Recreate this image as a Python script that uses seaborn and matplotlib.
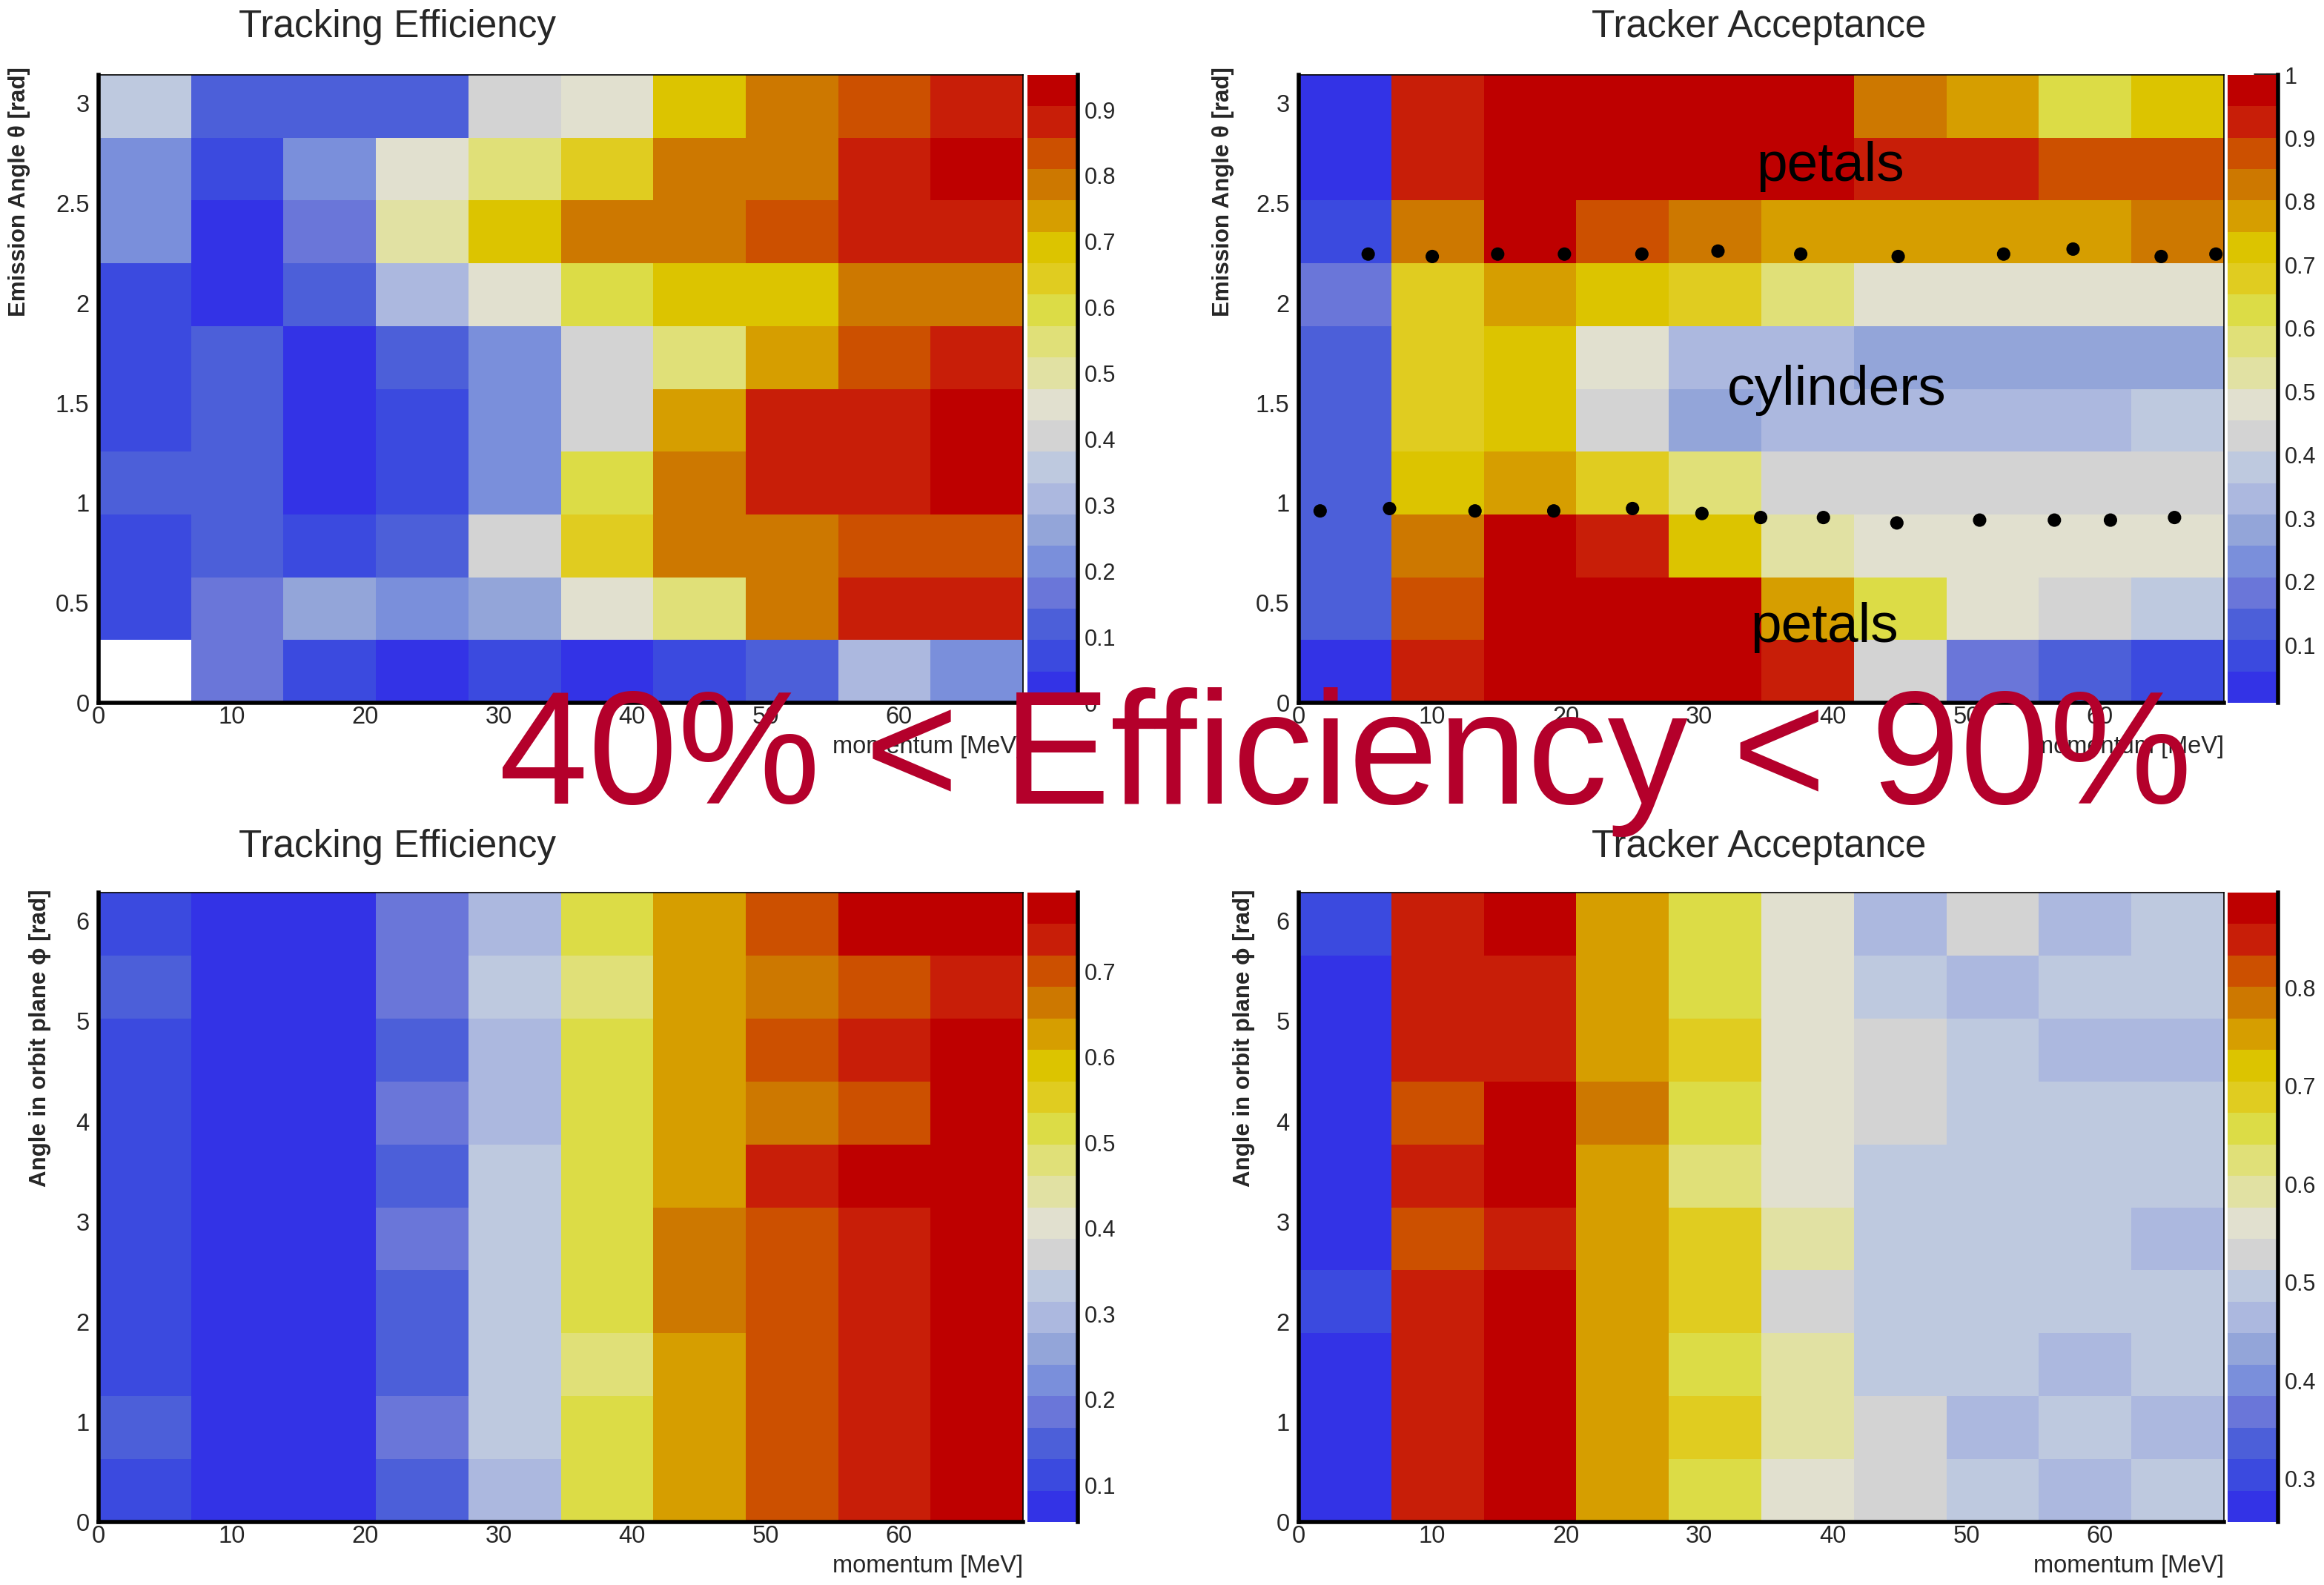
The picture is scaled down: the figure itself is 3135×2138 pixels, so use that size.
import numpy as np
import pandas as pd
import matplotlib
matplotlib.use("Agg")
import matplotlib.pyplot as plt
import seaborn as sns
from matplotlib.colors import ListedColormap
from matplotlib.ticker import MultipleLocator, FuncFormatter

sns.set_style("white")
plt.rcParams["font.family"] = ["Liberation Sans", "DejaVu Sans"]

# ------------------------------------------------------------------ data
momentum_max = 69.3            # MeV, upper edge of the momentum axis
theta_max = np.pi              # rad
phi_max = 2 * np.pi            # rad

# 20-step ROOT-like palette (blue -> grey -> yellow -> red)
palette = ["#3333E6", "#3B4ADF", "#4C5FD9", "#6A76D9", "#7A8FDB",
           "#93A5D9", "#ACB8DF", "#BEC9DF", "#D3D3D3", "#E1E0CF",
           "#E1E1A3", "#E0E078", "#DCDC46", "#E0CC20", "#DCC400",
           "#D69E00", "#CD7800", "#CC5000", "#C81E08", "#BE0000"]

# rows listed from the top of the plot (largest angle) to the bottom
eff_theta = [
    [0.36, 0.12, 0.12, 0.12, 0.40, 0.45, 0.69, 0.79, 0.83, 0.88],
    [0.21, 0.07, 0.21, 0.45, 0.55, 0.64, 0.79, 0.79, 0.88, 0.93],
    [0.21, 0.02, 0.17, 0.50, 0.69, 0.79, 0.79, 0.83, 0.88, 0.88],
    [0.07, 0.02, 0.12, 0.31, 0.45, 0.60, 0.69, 0.69, 0.79, 0.79],
    [0.07, 0.12, 0.02, 0.12, 0.21, 0.40, 0.55, 0.74, 0.83, 0.88],
    [0.07, 0.12, 0.02, 0.07, 0.21, 0.40, 0.74, 0.88, 0.88, 0.93],
    [0.12, 0.12, 0.02, 0.07, 0.21, 0.60, 0.79, 0.88, 0.88, 0.93],
    [0.07, 0.12, 0.07, 0.12, 0.40, 0.64, 0.79, 0.79, 0.83, 0.83],
    [0.07, 0.17, 0.26, 0.21, 0.26, 0.45, 0.55, 0.79, 0.88, 0.88],
    [np.nan, 0.17, 0.07, 0.02, 0.07, 0.02, 0.07, 0.12, 0.31, 0.21],
]
acc_theta = [
    [0.03, 0.93, 0.98, 0.98, 0.98, 0.98, 0.83, 0.78, 0.63, 0.73],
    [0.03, 0.93, 0.98, 0.98, 0.98, 0.98, 0.93, 0.93, 0.88, 0.88],
    [0.08, 0.83, 0.98, 0.88, 0.83, 0.78, 0.78, 0.78, 0.78, 0.83],
    [0.18, 0.68, 0.78, 0.73, 0.68, 0.58, 0.48, 0.48, 0.48, 0.48],
    [0.13, 0.68, 0.73, 0.48, 0.33, 0.33, 0.28, 0.28, 0.28, 0.28],
    [0.13, 0.68, 0.73, 0.43, 0.28, 0.33, 0.33, 0.33, 0.33, 0.38],
    [0.13, 0.73, 0.78, 0.68, 0.58, 0.43, 0.43, 0.43, 0.43, 0.43],
    [0.13, 0.83, 0.98, 0.93, 0.73, 0.53, 0.48, 0.48, 0.48, 0.48],
    [0.13, 0.88, 0.98, 0.98, 0.98, 0.78, 0.63, 0.48, 0.43, 0.38],
    [0.03, 0.93, 0.98, 0.98, 0.98, 0.93, 0.43, 0.18, 0.13, 0.08],
]
eff_phi = [
    [0.112, 0.075, 0.075, 0.186, 0.296, 0.516, 0.626, 0.700, 0.773, 0.773],
    [0.149, 0.075, 0.075, 0.186, 0.333, 0.479, 0.626, 0.663, 0.700, 0.737],
    [0.112, 0.075, 0.075, 0.149, 0.296, 0.516, 0.626, 0.700, 0.737, 0.773],
    [0.112, 0.075, 0.075, 0.186, 0.296, 0.516, 0.626, 0.663, 0.700, 0.773],
    [0.112, 0.075, 0.075, 0.149, 0.333, 0.516, 0.626, 0.737, 0.773, 0.773],
    [0.112, 0.075, 0.075, 0.186, 0.333, 0.516, 0.663, 0.700, 0.737, 0.773],
    [0.112, 0.075, 0.075, 0.149, 0.333, 0.516, 0.663, 0.700, 0.737, 0.773],
    [0.112, 0.075, 0.075, 0.149, 0.333, 0.479, 0.626, 0.700, 0.737, 0.773],
    [0.149, 0.075, 0.075, 0.186, 0.333, 0.516, 0.626, 0.700, 0.737, 0.773],
    [0.112, 0.075, 0.075, 0.149, 0.296, 0.516, 0.626, 0.700, 0.737, 0.773],
]
acc_phi = [
    [0.304, 0.849, 0.881, 0.753, 0.657, 0.560, 0.464, 0.528, 0.464, 0.496],
    [0.272, 0.849, 0.849, 0.753, 0.657, 0.560, 0.496, 0.464, 0.496, 0.496],
    [0.272, 0.849, 0.849, 0.753, 0.689, 0.560, 0.528, 0.496, 0.464, 0.464],
    [0.272, 0.817, 0.881, 0.785, 0.657, 0.560, 0.528, 0.496, 0.496, 0.496],
    [0.272, 0.849, 0.881, 0.753, 0.625, 0.560, 0.496, 0.496, 0.496, 0.496],
    [0.272, 0.817, 0.849, 0.753, 0.689, 0.593, 0.496, 0.496, 0.496, 0.464],
    [0.304, 0.849, 0.881, 0.753, 0.689, 0.528, 0.496, 0.496, 0.496, 0.496],
    [0.272, 0.849, 0.881, 0.753, 0.657, 0.593, 0.496, 0.496, 0.464, 0.496],
    [0.272, 0.849, 0.881, 0.753, 0.689, 0.593, 0.528, 0.464, 0.496, 0.464],
    [0.272, 0.849, 0.881, 0.753, 0.657, 0.560, 0.528, 0.496, 0.464, 0.496],
]
eff_theta_range = (0.0, 0.953)
acc_theta_range = (0.009, 1.0)
eff_phi_range = (0.057, 0.792)
acc_phi_range = (0.256, 0.897)

# boundary markers drawn on the acceptance(theta) map
upper_dots_p = [5.2, 10.0, 14.9, 19.9, 25.7, 31.4, 37.6, 44.9, 52.8, 58.0, 64.6, 68.7]
upper_dots_theta = [2.245, 2.233, 2.245, 2.245, 2.245, 2.26, 2.245, 2.233, 2.245, 2.27, 2.233, 2.245]
lower_dots_p = [1.6, 6.8, 13.2, 19.1, 25.0, 30.2, 34.6, 39.3, 44.8, 51.0, 56.6, 60.8, 65.6]
lower_dots_theta = [0.96, 0.972, 0.96, 0.96, 0.972, 0.947, 0.927, 0.927, 0.90, 0.914, 0.914, 0.914, 0.927]

region_labels = ["petals", "cylinders", "petals"]
region_label_p = [39.8, 40.3, 39.4]
region_label_theta = [2.685, 1.565, 0.378]

title_eff = "Tracking Efficiency"
title_acc = "Tracker Acceptance"
ylabel_theta = "Emission Angle θ [rad]"
ylabel_phi = "Angle in orbit plane ϕ [rad]"
xlabel = "momentum [MeV]"
overlay_text = "40% < Efficiency < 90%"

# ------------------------------------------------------------------ layout
W, H = 3135, 2138
fig = plt.figure(figsize=(W / 100, H / 100), dpi=100)
fig.patch.set_facecolor("white")


def rect(x0, y0, x1, y1):
    return [x0 / W, 1 - y1 / H, (x1 - x0) / W, (y1 - y0) / H]


cmap = ListedColormap(palette)
fmt = FuncFormatter(lambda v, p: f"{v:g}")


def draw_panel(values, zrange, ymax, ymaj, ymin_, ylabel, box, cbox, ylab_x, ylab_y):
    ax = fig.add_axes(rect(*box))
    cax = fig.add_axes(rect(*cbox))
    df = pd.DataFrame(values)
    sns.heatmap(df, ax=ax, cmap=cmap, vmin=zrange[0], vmax=zrange[1], cbar_ax=cax,
                xticklabels=False, yticklabels=False, linewidths=0)
    ax.set_facecolor("white")
    for s in ax.spines.values():
        s.set_visible(False)
    ax.set_xlabel("")
    ax.set_ylabel("")
    ax.tick_params(left=False, bottom=False)

    # colour bar, ROOT style
    cbar = ax.collections[0].colorbar
    ticks = [t for t in np.round(np.arange(0, 1.001, 0.1), 1)
             if zrange[0] - 1e-9 <= t <= zrange[1] + 1e-9]
    cbar.set_ticks(ticks)
    cax.yaxis.set_major_formatter(fmt)
    cbar.outline.set_visible(False)
    cax.spines["right"].set_visible(True)
    cax.spines["right"].set_linewidth(4)
    cax.spines["right"].set_color("black")
    cax.minorticks_off()
    cax.tick_params(axis="y", which="major", direction="in", length=24, width=3.5,
                    labelsize=22, pad=6, right=True, left=False,
                    labelright=True, labelleft=False)

    # overlay axis in physical units
    ov = fig.add_axes(rect(*box), facecolor="none")
    ov.set_xlim(0, momentum_max)
    ov.set_ylim(0, ymax)
    ov.xaxis.set_major_locator(MultipleLocator(10))
    ov.xaxis.set_minor_locator(MultipleLocator(2))
    ov.yaxis.set_major_locator(MultipleLocator(ymaj))
    ov.yaxis.set_minor_locator(MultipleLocator(ymin_))
    ov.xaxis.set_major_formatter(fmt)
    ov.yaxis.set_major_formatter(fmt)
    ov.tick_params(axis="x", which="major", direction="in", length=18, width=3.5,
                   labelsize=23.5, pad=3, top=False)
    ov.tick_params(axis="x", which="minor", direction="in", length=9, width=3.5, top=False)
    ov.tick_params(axis="y", which="major", direction="in", length=27, width=3.5,
                   labelsize=23.5, pad=9, right=False)
    ov.tick_params(axis="y", which="minor", direction="in", length=13.5, width=3.5, right=False)
    for side in ["bottom", "left"]:
        ov.spines[side].set_linewidth(4)
        ov.spines[side].set_color("black")
    for side in ["top", "right"]:
        ov.spines[side].set_linewidth(1.2)
        ov.spines[side].set_color("black")
    ov.set_xlabel(xlabel, loc="right", fontsize=23.5)
    ov.xaxis.set_label_coords(1.0, -0.052)
    ov.set_ylabel(ylabel, loc="top", fontsize=22.5, fontweight="bold")
    ov.yaxis.set_label_coords(ylab_x, ylab_y)
    return ov


ax1 = draw_panel(eff_theta, eff_theta_range, theta_max, 0.5, 0.1, ylabel_theta,
                 (133, 101, 1380, 948), (1386, 101, 1454, 948), -0.074, 1.013)
ax2 = draw_panel(acc_theta, acc_theta_range, theta_max, 0.5, 0.1, ylabel_theta,
                 (1752, 101, 3000, 948), (3005, 101, 3073, 948), -0.070, 1.013)
ax3 = draw_panel(eff_phi, eff_phi_range, phi_max, 1, 0.2, ylabel_phi,
                 (133, 1204, 1380, 2053), (1386, 1204, 1454, 2053), -0.051, 1.005)
ax4 = draw_panel(acc_phi, acc_phi_range, phi_max, 1, 0.2, ylabel_phi,
                 (1752, 1204, 3000, 2053), (3005, 1204, 3073, 2053), -0.047, 1.005)

# markers and region names on the acceptance(theta) map
sns.scatterplot(x=upper_dots_p, y=upper_dots_theta, ax=ax2, color="black",
                s=170, edgecolor="none", legend=False, zorder=5)
sns.scatterplot(x=lower_dots_p, y=lower_dots_theta, ax=ax2, color="black",
                s=170, edgecolor="none", legend=False, zorder=5)
ax2.set_xlim(0, momentum_max)
ax2.set_ylim(0, theta_max)
for lbl, px, py in zip(region_labels, region_label_p, region_label_theta):
    ax2.text(px, py, lbl, fontsize=54, ha="center", va="center", color="black", zorder=6)

# panel titles
fig.text(536 / W, 1 - 50 / H, title_eff, ha="center", va="baseline", fontsize=37)
fig.text(2373 / W, 1 - 50 / H, title_acc, ha="center", va="baseline", fontsize=37)
fig.text(536 / W, 1 - 1156 / H, title_eff, ha="center", va="baseline", fontsize=37)
fig.text(2373 / W, 1 - 1156 / H, title_acc, ha="center", va="baseline", fontsize=37)

# big overlay statement
fig.text(673 / W, 1 - 1084 / H, overlay_text, ha="left", va="baseline",
         fontsize=156, color="#B4002B", zorder=20)

fig.savefig("out.png", dpi=100, facecolor="white")
